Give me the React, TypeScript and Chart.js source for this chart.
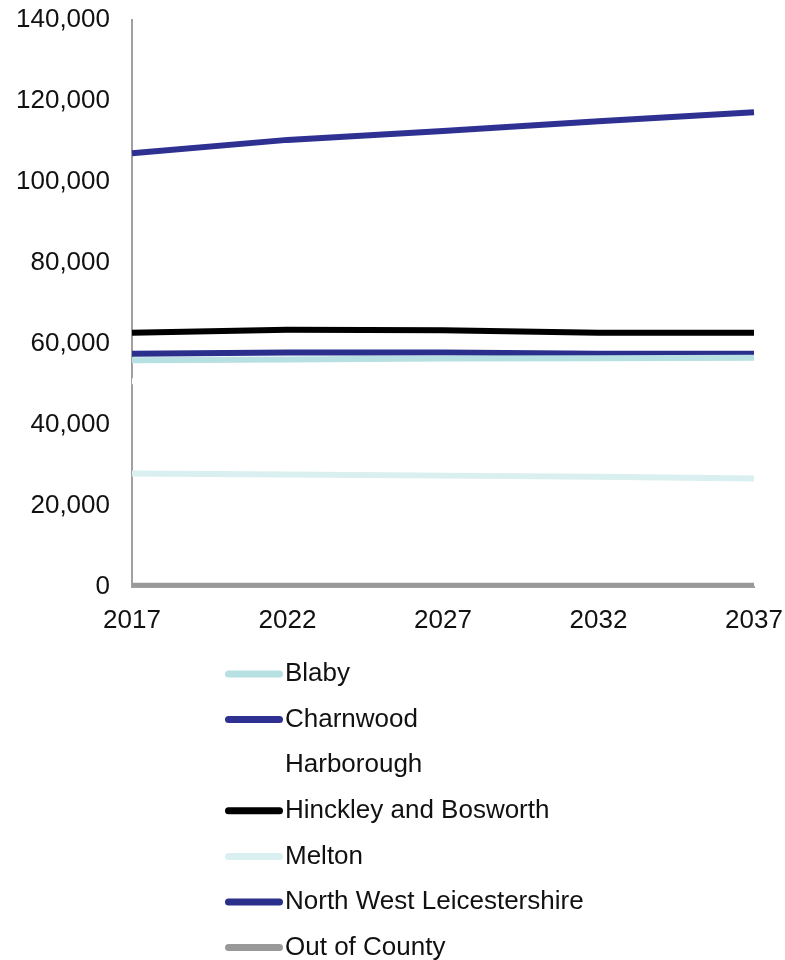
import React, { useEffect, useRef } from "react";
import { Chart, registerables } from "chart.js";

Chart.register(...registerables);

const years = ["2017", "2022", "2027", "2032", "2037"];
const yTicks = [0, 20000, 40000, 60000, 80000, 100000, 120000, 140000];

const seriesNames = [
  "Blaby",
  "Charnwood",
  "Harborough",
  "Hinckley and Bosworth",
  "Melton",
  "North West Leicestershire",
  "Out of County",
];

const blaby = [56000, 56200, 56400, 56500, 56600];
const charnwood = [107100, 110400, 112600, 115000, 117200];
const harborough = [50800, 51000, 51200, 51300, 51400];
const hinckley = [62800, 63500, 63400, 62800, 62800];
const melton = [28000, 27800, 27500, 27200, 26800];
const northWest = [57600, 57900, 57900, 57600, 57600];
const outOfCounty = [300, 300, 300, 300, 300];

const seriesValues = [blaby, charnwood, harborough, hinckley, melton, northWest, outOfCounty];
const seriesColors = ["#b7e0e3", "#2e3192", "#ffffff", "#000000", "#d9eff0", "#2b2f8c", "#999999"];

const FONT = "'Liberation Sans', Arial, sans-serif";

const verticalLegend = {
  id: "verticalLegend",
  afterDraw(chart: any, _args: any, opts: any) {
    const ctx = chart.ctx as CanvasRenderingContext2D;
    ctx.save();
    chart.data.datasets.forEach((ds: any, i: number) => {
      const y = opts.top + i * opts.rowGap;
      ctx.strokeStyle = ds.borderColor;
      ctx.lineWidth = opts.lineWidth;
      ctx.lineCap = "round";
      ctx.beginPath();
      ctx.moveTo(opts.left + opts.lineWidth / 2, y);
      ctx.lineTo(opts.left + opts.lineLen - opts.lineWidth / 2, y);
      ctx.stroke();
      ctx.fillStyle = "#111111";
      ctx.font = `${opts.fontSize}px ${FONT}`;
      ctx.textBaseline = "middle";
      ctx.textAlign = "left";
      ctx.fillText(ds.label, opts.left + opts.lineLen + 2, y);
    });
    ctx.restore();
  },
};

export default function App() {
  const canvasRef = useRef<HTMLCanvasElement | null>(null);

  useEffect(() => {
    if (!canvasRef.current) return;
    const chart = new Chart(canvasRef.current, {
      type: "line",
      data: {
        labels: years,
        datasets: seriesNames.map((name, i) => ({
          label: name,
          data: seriesValues[i],
          borderColor: seriesColors[i],
          backgroundColor: seriesColors[i],
          borderWidth: 6,
          pointRadius: 0,
          pointHoverRadius: 0,
          tension: 0,
          fill: false,
        })),
      },
      options: {
        animation: false,
        responsive: false,
        maintainAspectRatio: false,
        layout: { padding: { left: 0, right: 31, top: 20, bottom: 313 } },
        plugins: {
          legend: { display: false },
          tooltip: { enabled: false },
          verticalLegend: { left: 225, top: 674, rowGap: 45.6, lineLen: 58, lineWidth: 7, fontSize: 26 },
        } as any,
        scales: {
          x: {
            offset: false,
            grid: { display: false, drawTicks: false },
            border: { display: true, color: "#a0a0a0", width: 2 },
            ticks: {
              color: "#111111",
              font: { family: FONT, size: 26 },
              padding: 18,
              maxRotation: 0,
              autoSkip: false,
            },
            afterFit(scale: any) {
              scale.height = 60;
              scale.paddingLeft = 0;
              scale.paddingRight = 0;
            },
          },
          y: {
            min: 0,
            max: 140000,
            afterBuildTicks(scale: any) {
              scale.ticks = yTicks.map((v) => ({ value: v }));
            },
            grid: { display: false, drawTicks: false },
            border: { display: true, color: "#a0a0a0", width: 2 },
            ticks: {
              color: "#111111",
              font: { family: FONT, size: 26 },
              padding: 22,
              callback: (v: any) => Number(v).toLocaleString("en-GB"),
            },
            afterFit(scale: any) {
              scale.width = 132;
              scale.paddingTop = 0;
              scale.paddingBottom = 0;
            },
          },
        },
      },
      plugins: [verticalLegend],
    });
    return () => chart.destroy();
  }, []);

  return (
    <div style={{ position: "absolute", left: 0, top: 0, width: 785, height: 960, background: "#fff" }}>
      <canvas ref={canvasRef} width={785} height={960} style={{ display: "block" }} />
    </div>
  );
}
